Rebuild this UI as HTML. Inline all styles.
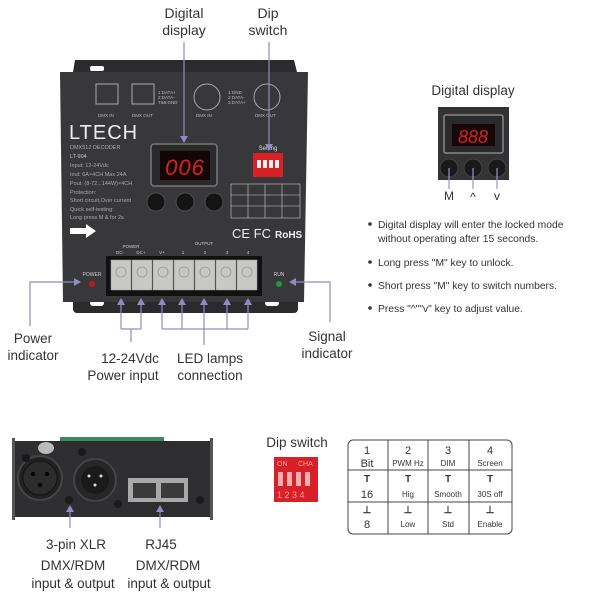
<!DOCTYPE html>
<html><head><meta charset="utf-8"><style>
html,body{margin:0;padding:0;background:#fff;width:600px;height:600px;overflow:hidden}
svg{display:block}
text{font-family:"Liberation Sans",sans-serif}
</style></head><body>
<svg width="600" height="600" viewBox="0 0 600 600" xmlns="http://www.w3.org/2000/svg">
<defs>
<marker id="a" markerWidth="8" markerHeight="8" refX="6" refY="4" orient="auto" markerUnits="userSpaceOnUse"><path d="M0,0 L7,4 L0,8 z" fill="#8f8cc4"/></marker>
</defs>
<g fill="#333" font-size="14" text-anchor="middle">
<text x="184" y="18">Digital</text><text x="184" y="35">display</text>
<text x="268" y="18">Dip</text><text x="268" y="35">switch</text>
</g>
<path d="M73,72 L75,60 L294,60 L297,72 Z" fill="#2b2b2d"/>
<rect x="90" y="66" width="14" height="5" rx="2" fill="#fff"/>
<rect x="73" y="295" width="225" height="18" rx="4" fill="#2b2b2d"/>
<rect x="90" y="300" width="14" height="6" rx="3" fill="#fff"/>
<rect x="265" y="300" width="14" height="6" rx="3" fill="#fff"/>
<path d="M60,72 L308,72 L304,302 L63,302 Z" fill="#38383a"/>
<g stroke="#aaa" fill="none" stroke-width="1">
<rect x="96" y="84" width="22" height="20"/><rect x="132" y="84" width="22" height="20"/>
<circle cx="207" cy="97" r="13"/><circle cx="267" cy="97" r="13"/>
</g>
<g fill="#bbb" font-size="4.5">
<text x="98" y="117">DMX IN</text><text x="132" y="117">DMX OUT</text>
<text x="158" y="94">1:DATA+</text><text x="158" y="99">2:DATA-</text><text x="158" y="104">T&amp;8:GND</text>
<text x="228" y="94">1:GND</text><text x="228" y="99">2:DATA-</text><text x="228" y="104">3:DATA+</text>
<text x="196" y="117">DMX IN</text><text x="255" y="117">DMX OUT</text>
</g>
<text x="69" y="139" fill="#eee" font-size="20" letter-spacing="1">LTECH</text>
<g fill="#aaa" font-size="5.5">
<text x="70" y="149">DMX512 DECODER</text>
<text x="70" y="158" fill="#ccc">LT-904</text>
<text x="70" y="167">Input: 12-24Vdc</text>
<text x="70" y="176">Iout:  6A×4CH  Max 24A</text>
<text x="70" y="185">Pout: (8-72...144W)×4CH</text>
<text x="70" y="194">Protection:</text>
<text x="70" y="202">Short circuit,Over current</text>
<text x="70" y="211">Quick self-testing:</text>
<text x="70" y="219">Long press M &amp; for 2s</text>
</g>
<path d="M70,228 L86,228 L86,224 L96,231 L86,238 L86,234 L70,234 Z" fill="#fff"/>
<rect x="151" y="144" width="66" height="42" rx="3" fill="#2a2a2c" stroke="#777" stroke-width="1.5"/>
<rect x="160" y="151" width="50" height="29" fill="#120606"/>
<text x="185" y="175" fill="#e02020" font-size="22" text-anchor="middle" font-style="italic" letter-spacing="1">006</text>
<g fill="#141414" stroke="#4a4a4a"><circle cx="156" cy="202" r="9"/><circle cx="185" cy="202" r="9"/><circle cx="214" cy="202" r="9"/></g>
<text x="268" y="150" fill="#ddd" font-size="6" text-anchor="middle">Setting</text>
<rect x="253" y="153" width="30" height="24" fill="#d62025"/>
<g fill="#eee"><rect x="257" y="160" width="4" height="8"/><rect x="263" y="160" width="4" height="8"/><rect x="269" y="160" width="4" height="8"/><rect x="275" y="160" width="4" height="8"/></g>
<g stroke="#ccc" stroke-width="0.6" fill="none"><rect x="231" y="184" width="69" height="34"/><line x1="231" y1="195" x2="300" y2="195"/><line x1="231" y1="206" x2="300" y2="206"/><line x1="248" y1="184" x2="248" y2="218"/><line x1="265" y1="184" x2="265" y2="218"/><line x1="282" y1="184" x2="282" y2="218"/></g>
<text x="232" y="238" fill="#eee" font-size="13">CE FC</text>
<text x="275" y="238" fill="#eee" font-size="10" font-weight="bold">RoHS</text>
<g fill="#ccc" font-size="4.5" text-anchor="middle">
<text x="131" y="248">POWER</text><text x="204" y="245">OUTPUT</text>
<text x="120" y="254">DC-</text><text x="141" y="254">DC+</text><text x="162" y="254">V+</text><text x="183" y="254">1</text><text x="205" y="254">2</text><text x="227" y="254">3</text><text x="248" y="254">4</text>
</g>
<rect x="106" y="256" width="156" height="40" fill="#111"/>
<g fill="#c8c8c4" stroke="#999" stroke-width="0.5">
<rect x="111" y="260" width="20" height="30"/><rect x="132" y="260" width="20" height="30"/><rect x="153" y="260" width="20" height="30"/><rect x="174" y="260" width="20" height="30"/><rect x="195" y="260" width="20" height="30"/><rect x="216" y="260" width="20" height="30"/><rect x="237" y="260" width="20" height="30"/>
</g>
<g fill="none" stroke="#999" stroke-width="0.8"><circle cx="121" cy="272" r="5"/><circle cx="142" cy="272" r="5"/><circle cx="163" cy="272" r="5"/><circle cx="184" cy="272" r="5"/><circle cx="205" cy="272" r="5"/><circle cx="226" cy="272" r="5"/><circle cx="247" cy="272" r="5"/></g>
<text x="92" y="276" fill="#ccc" font-size="5" text-anchor="middle">POWER</text>
<circle cx="92" cy="284" r="3" fill="#c01818"/>
<text x="279" y="276" fill="#ccc" font-size="5" text-anchor="middle">RUN</text>
<circle cx="279" cy="284" r="3" fill="#1a9a3a"/>
<g stroke="#8f8cc4" stroke-width="1.2" fill="none">
<line x1="184" y1="42" x2="184" y2="142" marker-end="url(#a)"/>
<line x1="269" y1="42" x2="269" y2="150" marker-end="url(#a)"/>
<polyline points="30,326 30,282 80,282" marker-end="url(#a)"/>
<polyline points="330,322 330,282 290,282" marker-end="url(#a)"/>
<polyline points="121,329 121,299" marker-end="url(#a)"/><polyline points="141,329 141,299" marker-end="url(#a)"/>
<line x1="121" y1="329" x2="141" y2="329"/><line x1="131" y1="329" x2="131" y2="342"/>
<line x1="162" y1="329" x2="162" y2="299" marker-end="url(#a)"/><line x1="182" y1="329" x2="182" y2="299" marker-end="url(#a)"/>
<line x1="204" y1="345" x2="204" y2="299" marker-end="url(#a)"/><line x1="227" y1="329" x2="227" y2="299" marker-end="url(#a)"/>
<line x1="248" y1="329" x2="248" y2="299" marker-end="url(#a)"/>
<line x1="162" y1="329" x2="248" y2="329"/>
</g>
<g fill="#333" font-size="13.5" text-anchor="middle">
<text x="33" y="343">Power</text><text x="33" y="360">indicator</text>
<text x="130" y="363">12-24Vdc</text><text x="123" y="380">Power  input</text>
<text x="210" y="363">LED lamps</text><text x="210" y="380">connection</text>
<text x="327" y="341">Signal</text><text x="327" y="358">indicator</text>
</g>
<text x="473" y="95" fill="#333" font-size="13.5" text-anchor="middle">Digital display</text>
<rect x="438" y="107" width="71" height="73" fill="#333335"/>
<rect x="444" y="115" width="59" height="38" rx="2" fill="#2a2a2c" stroke="#888" stroke-width="1.5"/>
<rect x="452" y="124" width="43" height="22" fill="#150707"/>
<text x="473" y="143" fill="#e02020" font-size="18" text-anchor="middle" font-style="italic">888</text>
<g fill="#1a1a1a" stroke="#444"><circle cx="449" cy="168" r="9"/><circle cx="473" cy="168" r="9"/><circle cx="497" cy="168" r="9"/></g>
<g stroke="#9a97c8" stroke-width="1.2"><line x1="449" y1="168" x2="449" y2="189"/><line x1="473" y1="168" x2="473" y2="189"/><line x1="497" y1="168" x2="497" y2="189"/></g>
<g fill="#333" font-size="12" text-anchor="middle"><text x="449" y="200">M</text><text x="473" y="201">^</text><text x="497" y="200">v</text></g>
<g fill="#333" font-size="10.3">
<circle cx="370" cy="224" r="1.8"/><text x="378" y="228">Digital display will enter the locked mode</text>
<text x="378" y="242">without operating after 15 seconds.</text>
<circle cx="370" cy="262" r="1.8"/><text x="378" y="266">Long press "M" key to unlock.</text>
<circle cx="370" cy="285" r="1.8"/><text x="378" y="289">Short press "M" key to switch numbers.</text>
<circle cx="370" cy="308" r="1.8"/><text x="378" y="312">Press "^""v" key to adjust value.</text>
</g>
<rect x="60" y="437" width="104" height="6" fill="#3a8a5a"/>
<rect x="12" y="441" width="201" height="76" rx="3" fill="#2e2e30"/>
<rect x="12" y="438" width="3" height="82" fill="#555"/><rect x="210" y="438" width="3" height="82" fill="#555"/>
<ellipse cx="46" cy="448" rx="8" ry="6" fill="#bbb"/>
<circle cx="40" cy="478" r="22" fill="#222" stroke="#444" stroke-width="2"/>
<circle cx="40" cy="478" r="17" fill="#2c2c2c" stroke="#111"/>
<g fill="#000"><circle cx="33" cy="474" r="2"/><circle cx="47" cy="474" r="2"/><circle cx="40" cy="485" r="2"/></g>
<circle cx="95" cy="480" r="21" fill="#262626" stroke="#444" stroke-width="2"/>
<circle cx="95" cy="480" r="14" fill="#1a1a1a"/>
<g fill="#ddd"><circle cx="89" cy="476" r="1.5"/><circle cx="101" cy="476" r="1.5"/><circle cx="95" cy="485" r="1.5"/></g>
<g fill="#1a1a1a"><circle cx="69" cy="500" r="4"/><circle cx="26" cy="458" r="4"/><circle cx="82" cy="452" r="4"/><circle cx="118" cy="504" r="4"/><circle cx="200" cy="500" r="4"/></g>
<rect x="128" y="478" width="60" height="24" fill="#a8a8a8"/>
<rect x="133" y="483" width="23" height="15" fill="#3a3a3a"/><rect x="161" y="483" width="23" height="15" fill="#3a3a3a"/>
<g stroke="#8f8cc4" stroke-width="1.2"><line x1="70" y1="528" x2="70" y2="506" marker-end="url(#a)"/><line x1="160" y1="528" x2="160" y2="506" marker-end="url(#a)"/></g>
<g fill="#333" font-size="13.5" text-anchor="middle">
<text x="76" y="549">3-pin XLR</text><text x="73" y="570">DMX/RDM</text><text x="73" y="588">input &amp; output</text>
<text x="161" y="549">RJ45</text><text x="168" y="570">DMX/RDM</text><text x="169" y="588">input &amp; output</text>
<text x="297" y="447">Dip switch</text>
</g>
<rect x="274" y="457" width="44" height="45" fill="#d82028"/>
<g fill="#f4a0a0" font-size="7"><text x="277" y="466">ON</text><text x="298" y="466">CHA</text></g>
<g fill="#f0b0b0"><rect x="278" y="472" width="5" height="14"/><rect x="287" y="472" width="5" height="14"/><rect x="296" y="472" width="5" height="14"/><rect x="305" y="472" width="5" height="14"/></g>
<text x="277" y="498" fill="#f4a0a0" font-size="9">1 2 3 4</text>
<g stroke="#444" stroke-width="1" fill="none"><rect x="348" y="440" width="164" height="94" rx="5"/><line x1="348" y1="470" x2="512" y2="470"/><line x1="348" y1="502" x2="512" y2="502"/><line x1="388" y1="440" x2="388" y2="534"/><line x1="428" y1="440" x2="428" y2="534"/><line x1="469" y1="440" x2="469" y2="534"/></g>
<g fill="#333" text-anchor="middle">
<g font-size="11"><text x="367" y="454">1</text><text x="408" y="454">2</text><text x="448" y="454">3</text><text x="490" y="454">4</text></g>
<text x="367" y="467" font-size="11">Bit</text><text x="408" y="466" font-size="8">PWM Hz</text><text x="448" y="466" font-size="8">DIM</text><text x="490" y="466" font-size="8">Screen</text>
<g font-size="10" font-weight="bold"><text x="367" y="482">T</text><text x="408" y="482">T</text><text x="448" y="482">T</text><text x="490" y="482">T</text>
<text x="367" y="513">⊥</text><text x="408" y="513">⊥</text><text x="448" y="513">⊥</text><text x="490" y="513">⊥</text></g>
<text x="367" y="498" font-size="11">16</text><text x="408" y="497" font-size="8">Hig</text><text x="448" y="497" font-size="8">Smooth</text><text x="490" y="497" font-size="8">30S off</text>
<text x="367" y="528" font-size="11">8</text><text x="408" y="527" font-size="8">Low</text><text x="448" y="527" font-size="8">Std</text><text x="490" y="527" font-size="8">Enable</text>
</g>
</svg>
</body></html>
